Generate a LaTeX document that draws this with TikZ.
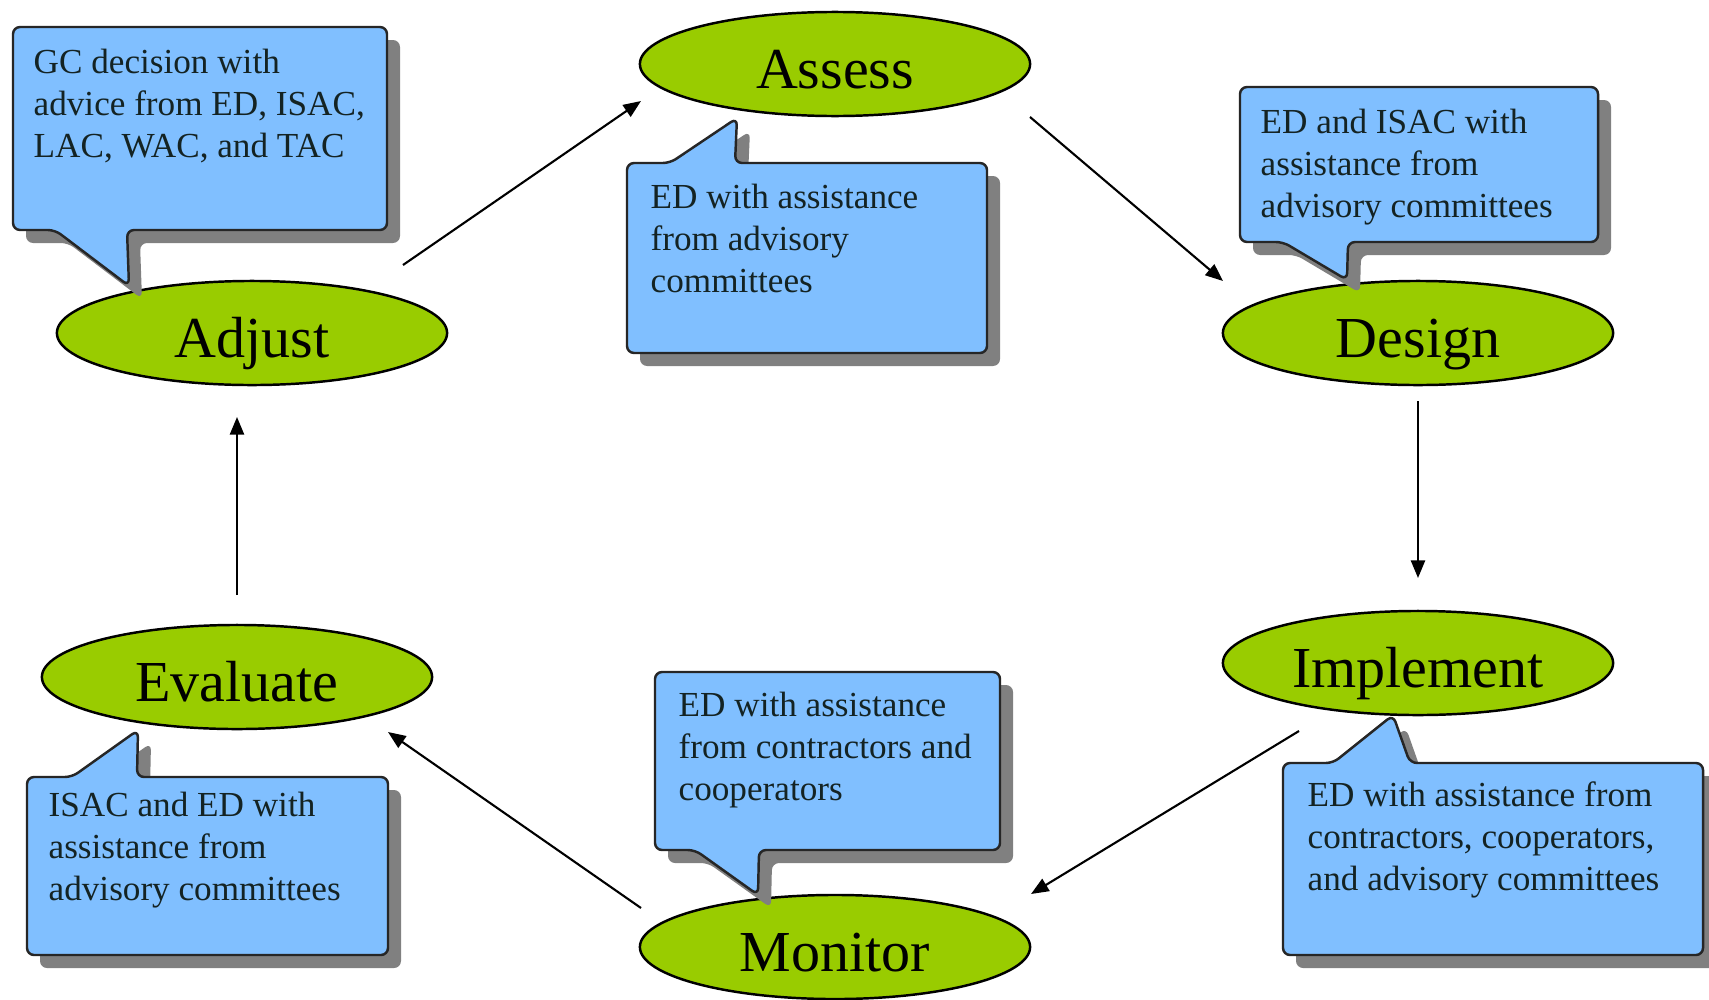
\documentclass[tikz,border=0pt]{standalone}
\usepackage{fontspec}
\setmainfont{Liberation Serif}
\usetikzlibrary{shapes.geometric,arrows.meta,calc}
\definecolor{callblue}{RGB}{128,191,255}
\definecolor{stagegreen}{RGB}{153,204,0}
\definecolor{shadowgray}{RGB}{128,128,128}
\definecolor{txtcol}{RGB}{20,35,35}
\newcommand\drawcallout[1]{%
  \path[calloutshadow, shift={(13,13)}] #1 -- cycle;
  \path[calloutbox] #1 -- cycle;}
\begin{document}
\begin{tikzpicture}[x=0.01cm,y=-0.01cm,
  stage/.style={ellipse, draw=black, line width=0.7pt, fill=stagegreen,
    minimum width=3.9cm, minimum height=1.04cm, inner sep=0pt,
    text height=14pt, text depth=0pt,
    font=\fontsize{16.5}{20}\selectfont},
  calloutbox/.style={fill=callblue, draw=black!85, line width=0.7pt, rounded corners=2pt},
  calloutshadow/.style={fill=shadowgray, rounded corners=2pt},
  note/.style={anchor=north west, inner sep=0pt, align=left, text=txtcol,
    font=\fontsize{10}{12}\selectfont},
  arr/.style={-{Triangle[length=5pt,width=4pt]}, line width=0.6pt, black}]
\useasboundingbox (0,0) rectangle (1709,1000);
\fill[white] (0,0) rectangle (1709,1000);

% stages
\node[stage] (Adjust)    at (252,333) {Adjust};
\node[stage] (Assess)    at (835,64)  {Assess};
\node[stage] (Design)    at (1418,333) {Design};
\node[stage] (Implement) at (1418,663) {Implement};
\node[stage] (Monitor)   at (835,947) {Monitor};
\node[stage] (Evaluate)  at (237,677) {Evaluate};

% callouts
\drawcallout{(13,27) -- (387,27) -- (387,230) -- (127,230) -- (129,286) -- (55,230) -- (13,230)}
\drawcallout{(627,163) -- (670,163) -- (737,118) -- (735,163) -- (987,163) -- (987,353) -- (627,353)}
\drawcallout{(1240,87) -- (1598,87) -- (1598,242) -- (1348,242) -- (1347,280) -- (1283,242) -- (1240,242)}
\drawcallout{(1283,763) -- (1333,763) -- (1393,715) -- (1410,763) -- (1703,763) -- (1703,955) -- (1283,955)}
\drawcallout{(655,672) -- (1000,672) -- (1000,850) -- (759,850) -- (758,895) -- (695,850) -- (655,850)}
\drawcallout{(27,777) -- (72,777) -- (138,730) -- (137,777) -- (388,777) -- (388,955) -- (27,955)}

% callout texts
\node[note] (tAdjust) at (33,48) {GC decision with\\advice from ED, ISAC,\\LAC, WAC, and TAC};
\node[note] (tAssess) at (650,183) {ED with assistance\\from advisory\\committees};
\node[note] (tDesign) at (1260,108) {ED and ISAC with\\assistance from\\advisory committees};
\node[note] (tImplement) at (1307,781) {ED with assistance from\\contractors, cooperators,\\and advisory committees};
\node[note] (tMonitor) at (678,691) {ED with assistance\\from contractors and\\cooperators};
\node[note] (tEvaluate) at (48,791) {ISAC and ED with\\assistance from\\advisory committees};

% connectors
\draw[arr] ($(Adjust.center)+(151,-68)$) -- ($(Assess.center)+(-194,37)$);
\draw[arr] ($(Assess.center)+(195,53)$) -- ($(Design.center)+(-195,-52)$);
\draw[arr] ($(Design.center)+(0,68)$) -- ($(Implement.center)+(0,-85)$);
\draw[arr] ($(Implement.center)+(-119,68)$) -- ($(Monitor.center)+(196,-53)$);
\draw[arr] ($(Monitor.center)+(-194,-39)$) -- ($(Evaluate.center)+(151,55)$);
\draw[arr] ($(Evaluate.center)+(0,-82)$) -- ($(Adjust.center)+(-15,84)$);
\end{tikzpicture}
\end{document}
